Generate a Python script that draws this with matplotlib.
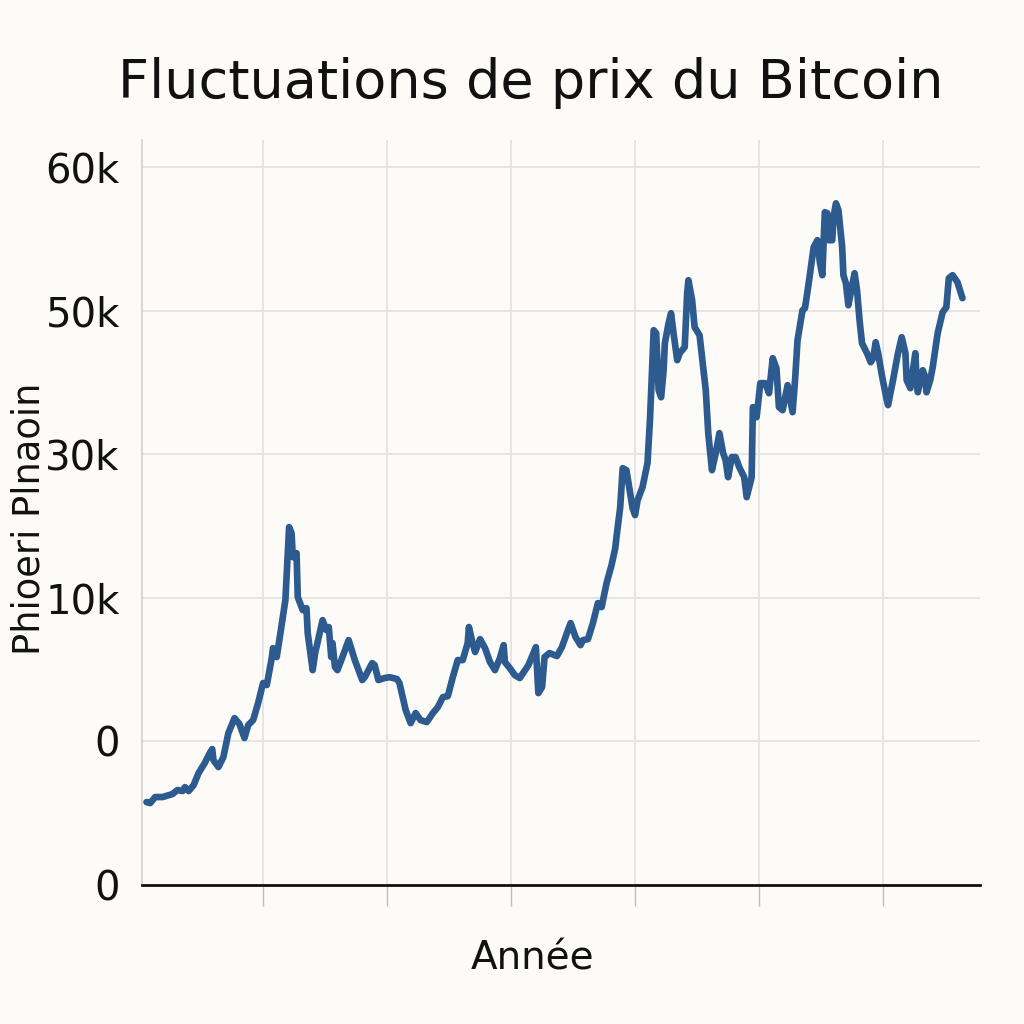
import matplotlib
matplotlib.use("Agg")
import matplotlib.pyplot as plt

# ---- data ----
years = [2013.06, 2013.09, 2013.13, 2013.19, 2013.27, 2013.31, 2013.35, 2013.37, 2013.40, 2013.44,
         2013.48, 2013.53, 2013.57, 2013.59, 2013.60, 2013.64, 2013.68, 2013.72, 2013.77, 2013.81,
         2013.85, 2013.88, 2013.92, 2013.96, 2014.00, 2014.03, 2014.07, 2014.08, 2014.11, 2014.14,
         2014.18, 2014.21, 2014.23, 2014.24, 2014.27, 2014.28, 2014.32, 2014.35, 2014.36, 2014.40,
         2014.42, 2014.48, 2014.51, 2014.53, 2014.55, 2014.56, 2014.58, 2014.60, 2014.64, 2014.69,
         2014.74, 2014.80, 2014.82, 2014.88, 2014.90, 2014.93, 2014.98, 2015.02, 2015.08, 2015.10,
         2015.15, 2015.19, 2015.23, 2015.27, 2015.32, 2015.37, 2015.41, 2015.45, 2015.49, 2015.53,
         2015.57, 2015.61, 2015.65, 2015.66, 2015.69, 2015.71, 2015.75, 2015.79, 2015.83, 2015.87,
         2015.91, 2015.94, 2015.95, 2015.99, 2016.03, 2016.07, 2016.14, 2016.20, 2016.22, 2016.25,
         2016.27, 2016.31, 2016.37, 2016.41, 2016.45, 2016.48, 2016.52, 2016.56, 2016.58, 2016.62,
         2016.66, 2016.70, 2016.73, 2016.77, 2016.81, 2016.84, 2016.85, 2016.88, 2016.90, 2016.93,
         2016.96, 2016.98, 2017.00, 2017.02, 2017.06, 2017.10, 2017.12, 2017.15, 2017.17, 2017.19,
         2017.21, 2017.23, 2017.24, 2017.27, 2017.29, 2017.31, 2017.34, 2017.36, 2017.40, 2017.42,
         2017.43, 2017.46, 2017.48, 2017.52, 2017.54, 2017.57, 2017.59, 2017.62, 2017.65, 2017.68,
         2017.71, 2017.73, 2017.75, 2017.78, 2017.81, 2017.84, 2017.88, 2017.90, 2017.94, 2017.95,
         2017.98, 2018.01, 2018.05, 2018.08, 2018.11, 2018.14, 2018.16, 2018.19, 2018.23, 2018.27,
         2018.29, 2018.31, 2018.35, 2018.37, 2018.40, 2018.44, 2018.47, 2018.49, 2018.51, 2018.53,
         2018.55, 2018.56, 2018.59, 2018.60, 2018.62, 2018.64, 2018.67, 2018.68, 2018.70, 2018.72,
         2018.74, 2018.77, 2018.79, 2018.81, 2018.83, 2018.87, 2018.90, 2018.92, 2018.94, 2018.96,
         2018.99, 2019.03, 2019.04, 2019.08, 2019.12, 2019.15, 2019.18, 2019.19, 2019.22, 2019.26,
         2019.27, 2019.28, 2019.32, 2019.34, 2019.35, 2019.38, 2019.40, 2019.44, 2019.48, 2019.51,
         2019.53, 2019.56, 2019.60, 2019.64]

price = [5.78, 5.71, 6.13, 6.13, 6.34, 6.62, 6.55, 6.82, 6.55, 6.96,
         7.80, 8.50, 9.19, 9.47, 8.70, 8.22, 8.91, 10.58, 11.63, 11.21,
         10.24, 11.14, 11.49, 12.67, 14.07, 13.93, 15.81, 16.50, 15.88, 17.55,
         19.85, 24.93, 24.51, 22.84, 23.12, 20.06, 19.15, 19.29, 17.55, 14.97,
         16.16, 18.45, 17.76, 17.97, 15.88, 16.85, 15.18, 14.97, 15.88, 17.06,
         15.67, 14.28, 14.48, 15.46, 15.32, 14.28, 14.42, 14.48, 14.35, 14.07,
         12.19, 11.28, 11.98, 11.49, 11.35, 11.98, 12.40, 13.09, 13.16, 14.48,
         15.67, 15.67, 16.85, 17.97, 16.85, 16.23, 17.13, 16.50, 15.53, 14.97,
         15.81, 16.71, 15.53, 15.11, 14.62, 14.42, 15.32, 16.57, 13.37, 13.79,
         15.88, 16.16, 15.95, 16.57, 17.55, 18.25, 17.27, 16.71, 17.06, 17.13,
         18.25, 19.64, 19.36, 21.03, 22.28, 23.47, 24.23, 26.32, 29.04, 28.90,
         27.30, 26.25, 25.77, 26.81, 27.72, 29.39, 32.38, 38.65, 38.44, 34.47,
         33.98, 35.86, 37.74, 39.14, 39.83, 38.44, 36.56, 37.05, 37.47, 41.23,
         42.13, 40.74, 38.86, 38.30, 36.77, 34.47, 31.48, 28.90, 30.08, 31.48,
         30.08, 29.60, 28.41, 29.81, 29.81, 29.11, 28.41, 27.02, 28.41, 33.29,
         32.59, 34.96, 34.96, 34.26, 36.70, 36.00, 33.29, 33.08, 34.82, 32.94,
         35.17, 37.95, 40.04, 40.18, 41.92, 44.43, 44.92, 43.38, 42.48, 46.87,
         46.80, 44.92, 44.92, 46.52, 47.49, 47.01, 44.43, 42.48, 41.92, 40.39,
         41.30, 42.62, 41.43, 39.35, 37.74, 37.05, 36.42, 36.70, 37.81, 37.05,
         35.52, 33.77, 33.43, 35.17, 37.05, 38.16, 37.05, 35.17, 34.61, 37.05,
         35.17, 34.33, 35.86, 35.38, 34.33, 35.17, 36.07, 38.44, 39.90, 40.25,
         42.27, 42.48, 41.99, 40.88]

ytick_values = [0, 10, 20, 30, 40, 50]
ytick_labels = ["0", "0", "10k", "30k", "50k", "60k"]
xtick_years = [2014, 2015, 2016, 2017, 2018, 2019]

title = "Fluctuations de prix du Bitcoin"
xlabel = "Année"
ylabel = "Phioeri Plnaoin"

# ---- style ----
bg = "#fcfbf7"
line_color = "#2d5b90"
grid_color = "#e5e5e3"
plt.rcParams["font.family"] = ["DejaVu Sans"]

fig = plt.figure(figsize=(10.24, 10.24), dpi=100, facecolor=bg)
ax = fig.add_axes([0.1387, 0.1357, 0.8184, 0.7276])
ax.set_facecolor(bg)

ax.plot(years, price, color=line_color, lw=4.8, solid_joinstyle="round",
        solid_capstyle="round", zorder=3)

ax.set_xlim(2013.024, 2019.782)
ax.set_ylim(0, 51.9)

ax.set_yticks(ytick_values)
ax.set_yticklabels(ytick_labels)
ax.set_xticks(xtick_years)
ax.set_xticklabels([])

ax.grid(True, color=grid_color, lw=1.4, zorder=0)
ax.tick_params(axis="y", length=0, pad=16, labelsize=29, labelcolor="#111111")
ax.tick_params(axis="x", length=15, width=1.0, color="#bdbdbd", direction="out")

for s in ["top", "right"]:
    ax.spines[s].set_visible(False)
ax.spines["left"].set_color("#d2d2d2")
ax.spines["left"].set_linewidth(1.2)
ax.spines["bottom"].set_color("#111111")
ax.spines["bottom"].set_linewidth(2.0)

fig.text(0.518, 0.919, title, ha="center", va="center", fontsize=39,
         fontweight="medium", color="#111111")
fig.text(0.52, 0.064, xlabel, ha="center", va="center", fontsize=28, color="#111111")
fig.text(0.028, 0.493, ylabel, rotation=90, ha="center", va="center", fontsize=26.5, color="#111111")

fig.savefig("out.png", dpi=100, facecolor=bg)
